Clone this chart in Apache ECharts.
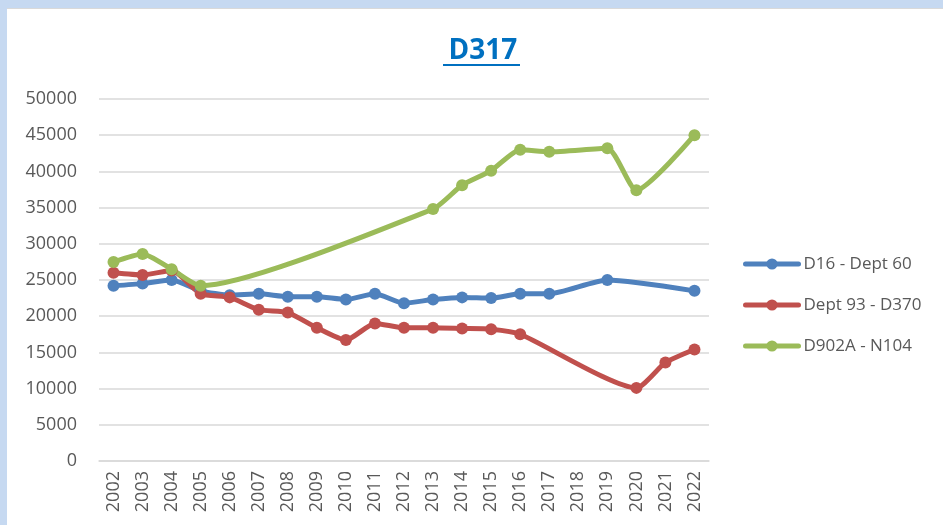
<!DOCTYPE html>
<html>
<head>
<meta charset="utf-8">
<script src="https://cdn.jsdelivr.net/npm/echarts@6/dist/echarts.min.js"></script>
<style>
  html, body { margin: 0; padding: 0; background: #c6d9f1; }
  #chart {
    position: absolute; left: 7px; top: 8px;
    width: 936px; height: 517px;
    background: #ffffff;
    border-top: 1px solid #d9d9d9;
    box-sizing: border-box;
  }
</style>
</head>
<body>
<div id="chart"></div>
<script>
// année par année
const years = ['2002','2003','2004','2005','2006','2007','2008','2009','2010','2011','2012',
  '2013','2014','2015','2016','2017','2018','2019','2020','2021','2022'];

// comptages (null = pas de mesure)
const d16Dept60 = [24200, 24500, 25000, 23500, 22900, 23100, 22700, 22700, 22300, 23100, 21800,
  22300, 22600, 22500, 23100, 23100, null, 25000, null, null, 23500];
const dept93D370 = [26000, 25700, 26300, 23100, 22600, 20900, 20500, 18400, 16700, 19000, 18400,
  18400, 18300, 18200, 17500, null, null, null, 10100, 13600, 15400];
const d902aN104 = [27500, 28600, 26500, 24200, null, null, null, null, null, null, null,
  34800, 38100, 40100, 43000, 42700, null, 43200, 37400, null, 45000];

const seriesNames = ['D16 - Dept 60', 'Dept 93 - D370', 'D902A - N104'];
const couleurs = ['#4f81bd', '#c0504d', '#9bbb59'];

const fontFam = '"Open Sans", "Noto Sans", sans-serif';
let myChart = echarts.init(document.getElementById('chart'), null, { renderer: 'canvas' });

function ligne(name, data, color) {
    return {
        name: name,
        type: 'line',
        data: data,
        smooth: 0.2,
        connectNulls: true,
        symbol: 'circle',
        symbolSize: 12,
        itemStyle: { color: color },
        lineStyle: { color: color, width: 5, cap: 'round', join: 'round' }
    };
}

let option = {
    animation: false,
    color: couleurs,
    graphic: [
        {
            type: 'text',
            x: 476, y: 28,
            style: {
                text: 'D317',
                align: 'center',
                fill: '#0070c0',
                font: 'bold 28px ' + fontFam
            }
        },
        {
            type: 'rect',
            shape: { x: 436, y: 55, width: 77, height: 2 },
            style: { fill: '#0070c0' }
        }
    ],
    legend: {
        orient: 'vertical',
        left: 736,
        top: 245,
        padding: 0,
        itemWidth: 53,
        itemHeight: 14,
        itemGap: 21,
        lineStyle: { width: 5 },
        textStyle: { color: '#595959', fontSize: 17, fontFamily: fontFam, lineHeight: 20 },
        data: seriesNames
    },
    grid: { left: 92, right: 234, top: 90, bottom: 64, containLabel: false },
    xAxis: {
        type: 'category',
        data: years,
        boundaryGap: true,
        axisLine: { show: true, lineStyle: { color: '#d9d9d9', width: 1.5 } },
        axisTick: { show: false },
        axisLabel: {
            rotate: 90, color: '#595959', fontSize: 18, fontFamily: fontFam, margin: 10
        }
    },
    yAxis: {
        type: 'value',
        min: 0, max: 50000, interval: 5000,
        axisLine: { show: false },
        axisTick: { show: false },
        splitLine: { lineStyle: { color: '#d9d9d9', width: 1.5 } },
        axisLabel: {
            color: '#595959', fontSize: 18, fontFamily: fontFam, margin: 22,
            formatter: function (v) { return String(v); }
        }
    },
    series: [
        ligne(seriesNames[0], d16Dept60, couleurs[0]),
        ligne(seriesNames[1], dept93D370, couleurs[1]),
        ligne(seriesNames[2], d902aN104, couleurs[2])
    ]
};
myChart.setOption(option);
</script>
</body>
</html>
